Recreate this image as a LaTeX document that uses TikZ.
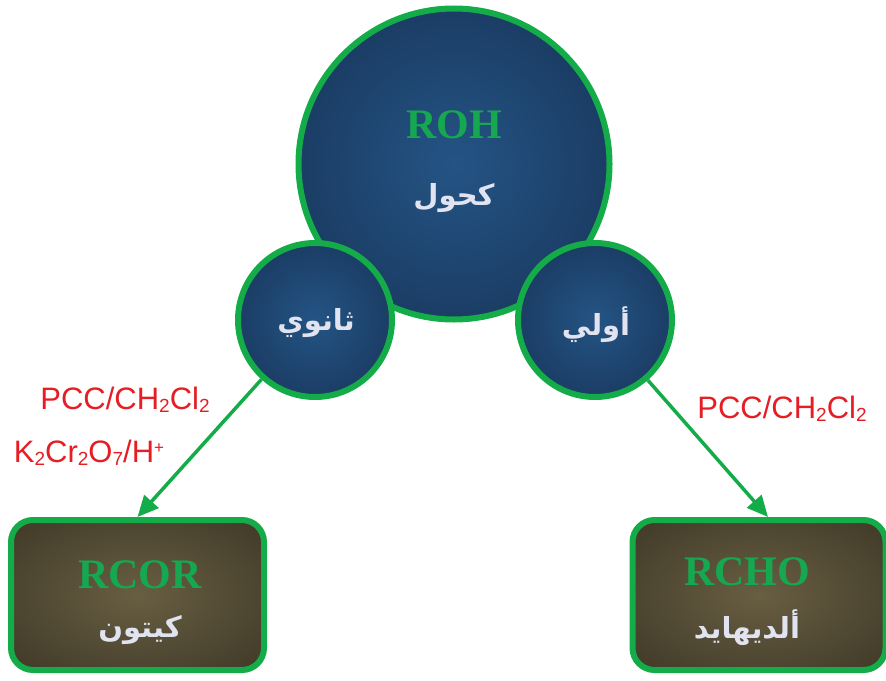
\documentclass[tikz,border=0pt]{standalone}
\usepackage{fontspec}
\setmainfont{Liberation Serif}
\newfontfamily\arabicfont[Script=Arabic]{DejaVu Sans}
\newfontfamily\labfont{Liberation Sans}
\TeXXeTstate=1
\usetikzlibrary{arrows.meta}
\definecolor{edgegreen}{RGB}{20,172,72}
\definecolor{txtgreen}{RGB}{22,168,80}
\definecolor{ballin}{RGB}{36,84,132}
\definecolor{ballout}{RGB}{18,38,70}
\definecolor{boxin}{RGB}{104,94,66}
\definecolor{boxout}{RGB}{46,42,28}
\definecolor{labred}{RGB}{228,30,36}
\definecolor{artext}{RGB}{225,228,240}
\pgfdeclareradialshading{ballshade}{\pgfpointorigin}{color(0bp)=(ballin); color(50bp)=(ballout)}
\pgfdeclareradialshading{boxshade}{\pgfpointorigin}{color(0bp)=(boxin); color(50bp)=(boxout); color(75bp)=(boxout)}
\newcommand{\chsb}[1]{\raisebox{-0.1em}{\fontsize{19}{19}\selectfont #1}}
\newcommand{\chsp}[1]{\raisebox{0.28em}{\fontsize{17}{17}\selectfont #1}}
\tikzset{
  ball/.style={circle, draw=edgegreen, line width=6pt, shading=ballshade, inner sep=0pt},
  prod/.style={rectangle, rounded corners=22pt, draw=edgegreen, line width=6pt, shading=boxshade,
               minimum width=253pt, minimum height=150pt, inner sep=0pt},
  formula/.style={font=\bfseries\fontsize{42}{46}\selectfont, text=txtgreen, inner sep=0pt},
  artxt/.style={font=\arabicfont\bfseries\fontsize{29}{34}\selectfont, text=artext, inner sep=0pt},
  reag/.style={font=\labfont\fontsize{31}{36}\selectfont, text=labred, inner sep=0pt, anchor=base},
  conn/.style={draw=edgegreen, line width=3.5pt, -{Triangle[length=21pt,width=19pt]}}
}
\begin{document}
\begin{tikzpicture}[x=1pt,y=-1pt]
\useasboundingbox (0,0) rectangle (886,680);
\node[ball, minimum size=311pt] (alc) at (454,164) {};
\node[ball, minimum size=154pt] (sec) at (315,320) {};
\node[ball, minimum size=154pt] (pri) at (595,320) {};
\node[prod] (ket) at (137.5,595) {};
\node[prod] (ald) at (759,595) {};
\node[formula] (alcF) at (454,125) {ROH};
\node[artxt] (alcA) at (454,198) {\beginR كحول\endR};
\node[artxt] (secA) at (316,323) {\beginR ثانوي\endR};
\node[artxt] (priA) at (596,325) {\beginR أولي\endR};
\node[formula] (ketF) at (140,575) {RCOR};
\node[artxt] (ketA) at (140,630) {\beginR كيتون\endR};
\node[formula] (aldF) at (747,572) {RCHO};
\node[artxt] (aldA) at (747,628) {\beginR ألديهايد\endR};
\draw[conn] (sec) -- (ket.north);
\draw[conn] (pri) -- ([xshift=9pt]ald.north);
\node[reag] (r1) at (125,409) {PCC/CH\chsb{2}Cl\chsb{2}};
\node[reag] (r2) at (89,462) {K\chsb{2}Cr\chsb{2}O\chsb{7}/H\chsp{+}};
\node[reag] (r3) at (782,418) {PCC/CH\chsb{2}Cl\chsb{2}};
\end{tikzpicture}
\end{document}
